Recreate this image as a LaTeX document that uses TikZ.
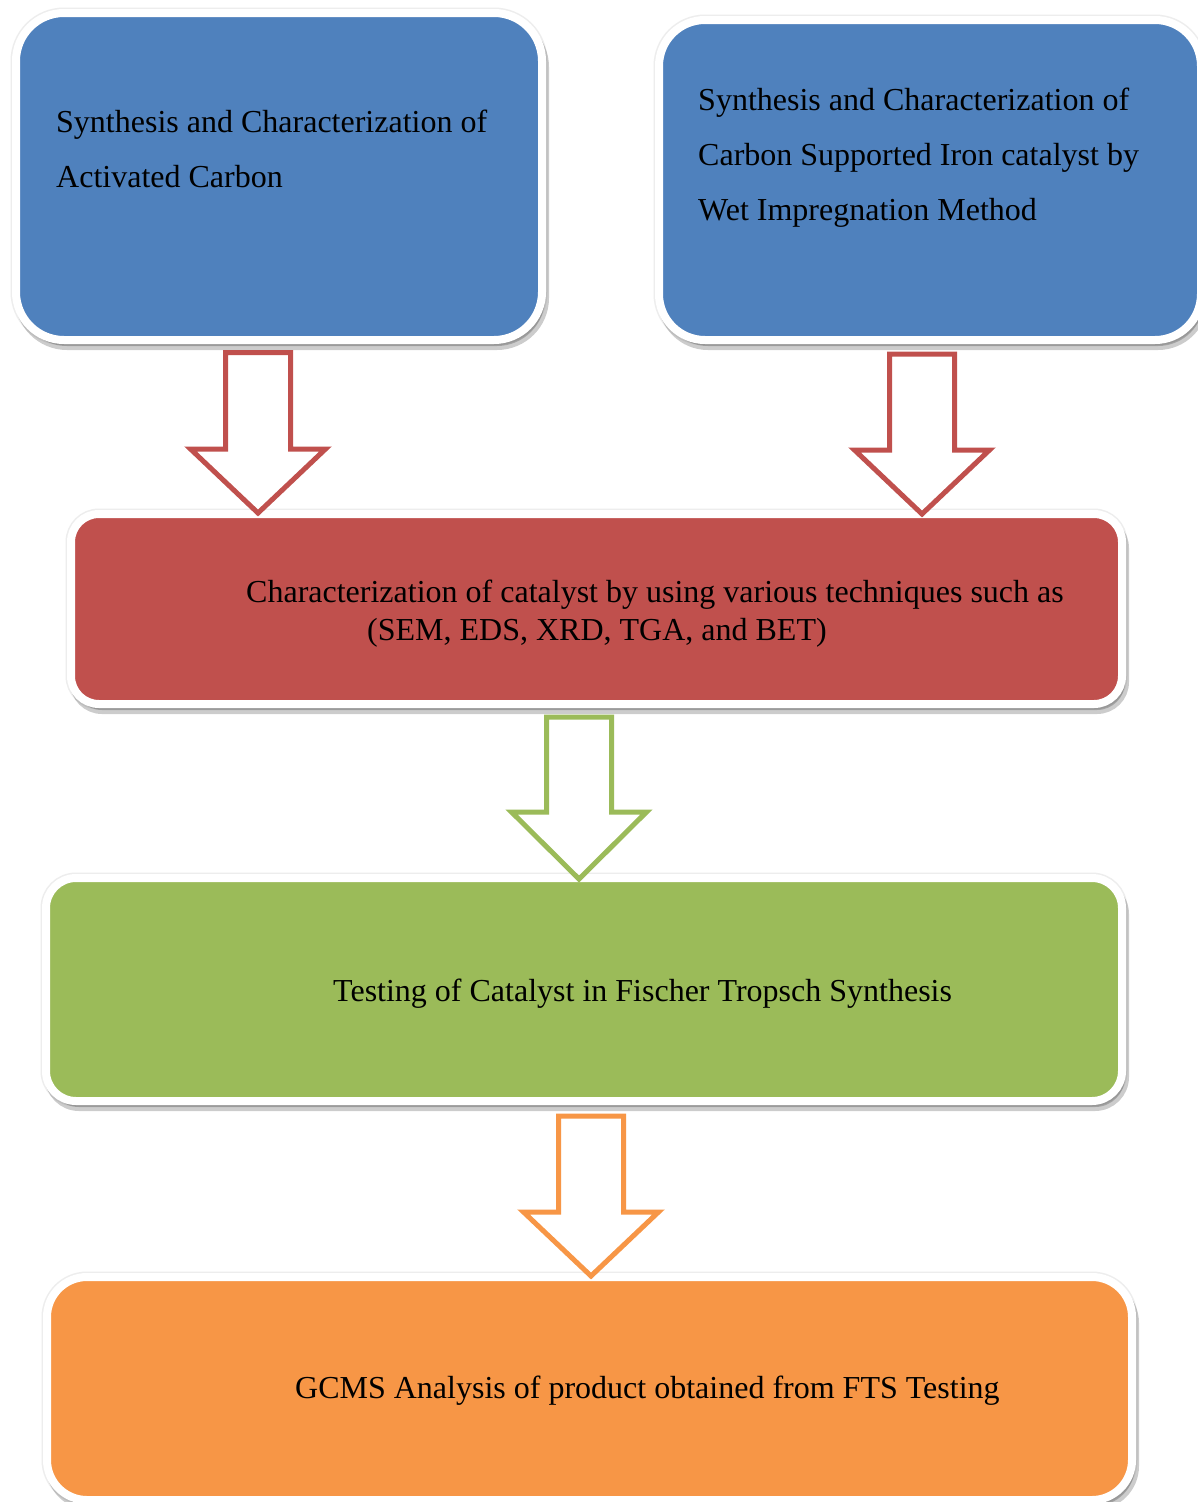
\documentclass[tikz,border=0pt]{standalone}
\usepackage{fontspec}
\setmainfont{Liberation Serif}
\usetikzlibrary{shadows,calc}
\definecolor{cblue}{HTML}{4F81BD}
\definecolor{cred}{HTML}{C0504D}
\definecolor{cgreen}{HTML}{9BBB59}
\definecolor{corange}{HTML}{F79646}
\tikzset{
  boxbase/.style={draw=white, line width=8pt,
    preaction={draw=black!7, line width=11pt},
    drop shadow={shadow xshift=3pt, shadow yshift=-6pt, opacity=0.2, fill=black, draw=black, line width=8pt}},
  txt/.style={anchor=base west, inner sep=0pt, font=\fontsize{32}{55}\selectfont, text=black},
  blockarr/.style={draw=#1, fill=white, line width=5pt, line join=miter},
}
\newcommand\blockarrow[6]{% color, cx, ytop, ywing, ytip, name
  \coordinate (#6) at (#2,#3);
  \draw[blockarr=#1] ($(#6)+(-32.5,0)$) -- ($(#6)+(32.5,0)$) -- ($(#6)+(32.5,#4-#3)$) -- ($(#6)+(67.5,#4-#3)$)
    -- ($(#6)+(0,#5-#3)$) -- ($(#6)+(-67.5,#4-#3)$) -- ($(#6)+(-32.5,#4-#3)$) -- cycle;
}
\begin{document}
\begin{tikzpicture}[x=1pt,y=-1pt]
\useasboundingbox[fill=white] (0,0) rectangle (1198,1502);
% boxes
\path[boxbase, fill=cblue, rounded corners=48pt] (16,13) rectangle (542,340);
\node[inner sep=0pt] (b1) at (279,176.5) {};
\path[boxbase, fill=cblue, rounded corners=46pt] (659,20) rectangle (1201,340);
\node[inner sep=0pt] (b2) at (930,180) {};
\path[boxbase, fill=cred, rounded corners=28pt] (71,514) rectangle (1122,704);
\node[inner sep=0pt] (b3) at (596,609) {};
\path[boxbase, fill=cgreen, rounded corners=30pt] (46,878) rectangle (1122,1101);
\node[inner sep=0pt] (b4) at (584,990) {};
\path[boxbase, fill=corange, rounded corners=40pt] (47,1277) rectangle (1132,1500);
\node[inner sep=0pt] (b5) at (590,1388) {};
% texts
\node[txt] (t1a) at (56,132) {Synthesis and Characterization of};
\node[txt] (t1b) at (56,187) {Activated Carbon};
\node[txt] (t2a) at (698,110) {Synthesis and Characterization of};
\node[txt] (t2b) at (698,165) {Carbon Supported Iron catalyst by};
\node[txt] (t2c) at (698,220) {Wet Impregnation Method};
\node[txt] (t3a) at (246,602) {Characterization of catalyst by using various techniques such as};
\node[txt] (t3b) at (367,640) {(SEM, EDS, XRD, TGA, and BET)};
\node[txt] (t4) at (333,1001) {Testing of Catalyst in Fischer Tropsch Synthesis};
\node[txt] (t5) at (295,1398) {GCMS Analysis of product obtained from FTS Testing};
% arrows
\blockarrow{cred}{258}{352.5}{449}{513}{a1}
\blockarrow{cred}{922}{354}{450}{514}{a2}
\blockarrow{cgreen}{579}{717}{812}{879}{a3}
\blockarrow{corange}{591}{1116}{1212}{1276}{a4}
\end{tikzpicture}
\end{document}
